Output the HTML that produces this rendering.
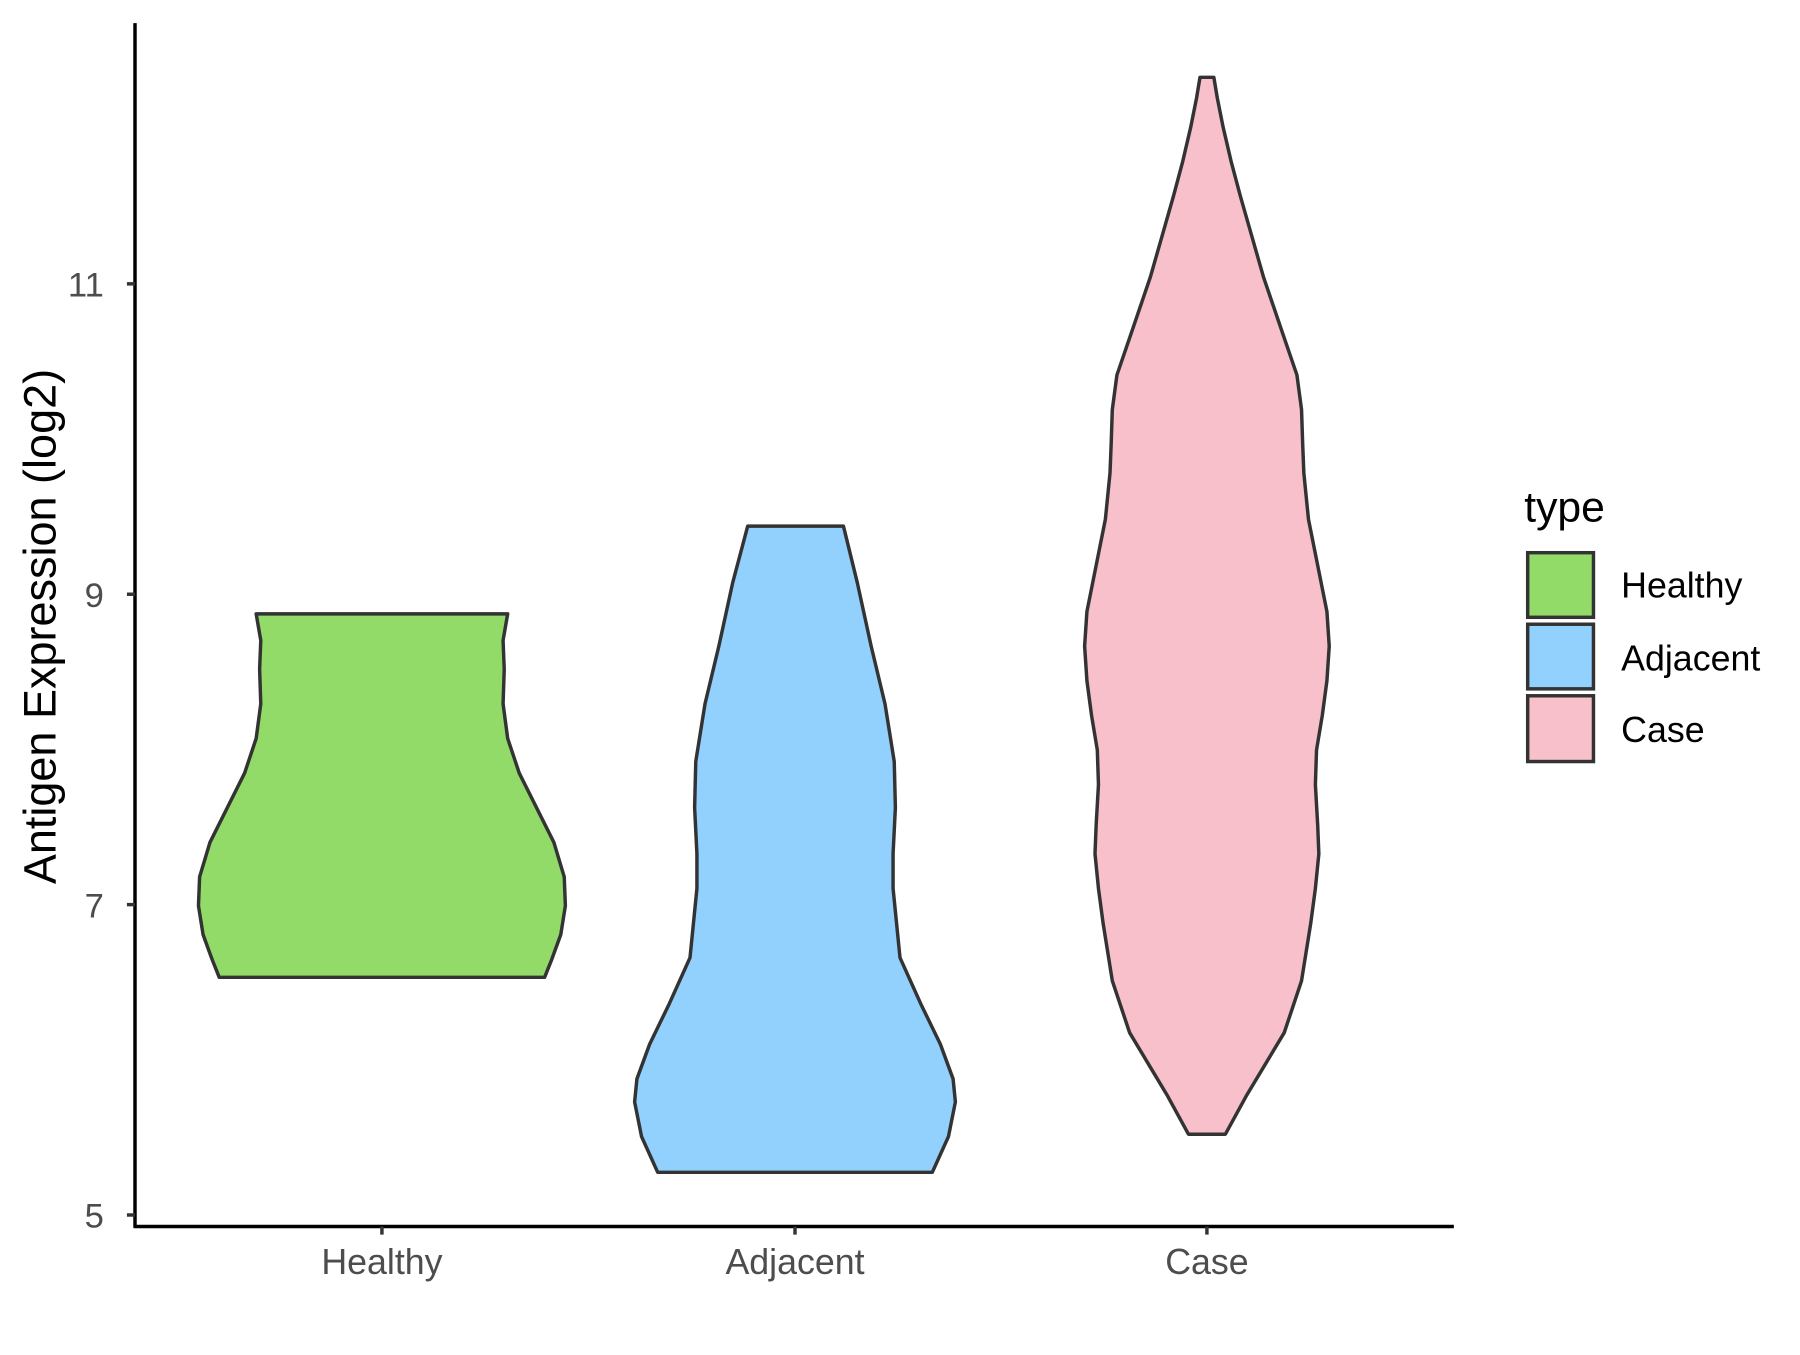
<!DOCTYPE html>
<html><head><style>html,body{margin:0;padding:0;background:#fff}</style></head>
<body>
<svg width="1800" height="1350" viewBox="0 0 1560 1170" preserveAspectRatio="none" xmlns="http://www.w3.org/2000/svg" font-family="Liberation Sans, Arial, sans-serif">
<rect width="1560" height="1170" fill="#fff"/>
<g stroke="#333" stroke-width="3" stroke-linejoin="round">
<polygon fill="#93DB69" points="440,532 436,555 437,580 436,610 440,640 450,670 465,700 480,730 489,760 490,785 486,810 478,832 472,847 190,847 184,832 176,810 172,785 173,760 182,730 197,700 212,670 222,640 226,610 225,580 226,555 222,532"/>
<polygon fill="#92D1FE" points="731,456 743,505 755,560 767,610 775,660 776,700 774,740 774,770 780,830 798,870 815,905 826,935 828,955 822,985 808,1016 570,1016 556,985 550,955 552,935 563,905 580,870 598,830 604,770 604,740 602,700 603,660 611,610 623,560 635,505 648,456"/>
<polygon fill="#F8C0CB" points="1052,67 1055,85 1060,110 1067,140 1075,170 1085,205 1095,240 1112,290 1124,325 1128,355 1129,385 1130,410 1134,450 1143,495 1150,530 1152,560 1150,590 1146,620 1141,650 1140,680 1142,715 1143,740 1140,770 1136,800 1128,850 1113,895 1095,925 1080,950 1062,983 1030,983 1012,950 997,925 979,895 964,850 956,800 952,770 949,740 950,715 952,680 951,650 946,620 942,590 940,560 942,530 949,495 958,450 962,410 963,385 964,355 968,325 980,290 997,240 1007,205 1017,170 1025,140 1032,110 1037,85 1040,67"/>
</g>
<g stroke="#000" stroke-width="3" fill="none">
<line x1="117" y1="20" x2="117" y2="1064"/>
<line x1="116" y1="1063" x2="1260" y2="1063"/>
</g>
<g stroke="#333" stroke-width="3">
<line x1="110" y1="1053" x2="117" y2="1053"/><line x1="110" y1="784" x2="117" y2="784"/>
<line x1="110" y1="515" x2="117" y2="515"/><line x1="110" y1="246" x2="117" y2="246"/>
<line x1="331" y1="1063" x2="331" y2="1070"/><line x1="689" y1="1063" x2="689" y2="1070"/><line x1="1046" y1="1063" x2="1046" y2="1070"/>
</g>
<g fill="#4d4d4d" font-size="30" text-anchor="end">
<text x="90" y="1064">5</text><text x="90" y="795">7</text><text x="90" y="526">9</text><text x="90" y="257">11</text>
</g>
<g fill="#4d4d4d" font-size="31" text-anchor="middle">
<text x="331" y="1104">Healthy</text><text x="689" y="1104">Adjacent</text><text x="1046" y="1104">Case</text>
</g>
<text transform="translate(48,543) rotate(-90)" font-size="39" text-anchor="middle" fill="#000">Antigen Expression (log2)</text>
<text x="1321" y="452" font-size="37" fill="#000">type</text>
<g stroke="#333" stroke-width="3">
<rect x="1324" y="479" width="57" height="56" fill="#93DB69"/>
<rect x="1324" y="541" width="57" height="56" fill="#92D1FE"/>
<rect x="1324" y="603" width="57" height="57" fill="#F8C0CB"/>
</g>
<g font-size="31" fill="#000">
<text x="1405" y="518">Healthy</text><text x="1405" y="581">Adjacent</text><text x="1405" y="643">Case</text>
</g>
</svg>
</body></html>
